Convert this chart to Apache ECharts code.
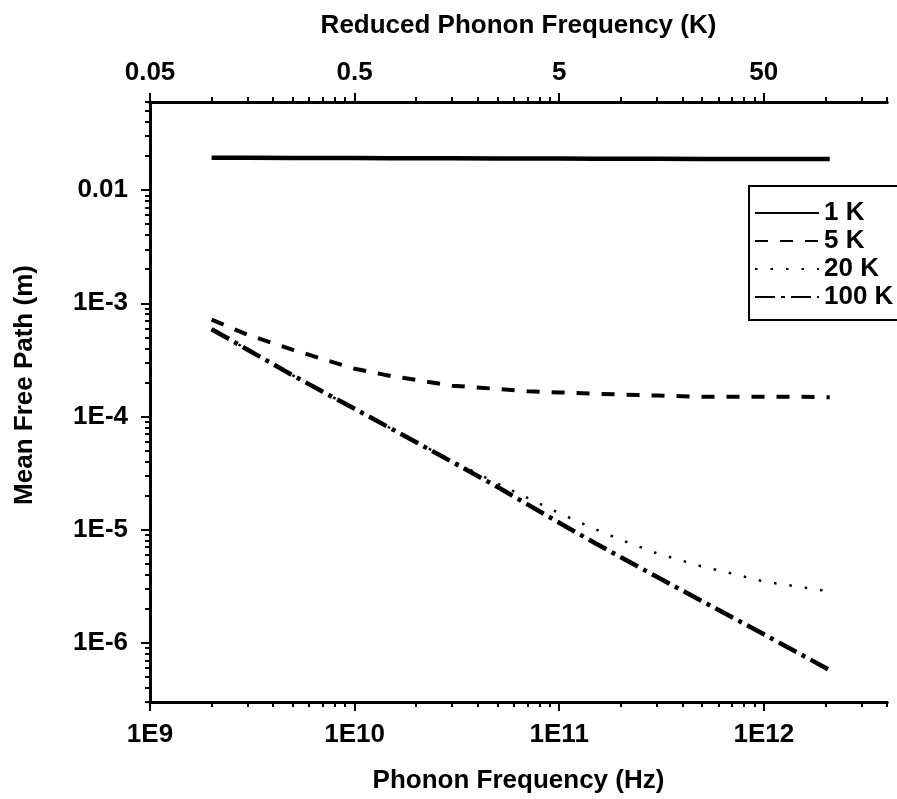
<!DOCTYPE html>
<html>
<head>
<meta charset="utf-8">
<script src="https://cdn.jsdelivr.net/npm/echarts@6/dist/echarts.min.js"></script>
<style>html,body{margin:0;padding:0;background:#fff}#c{width:897px;height:799px}</style>
</head>
<body>
<div id="c"></div>
<script>
// ---- data ----
const freqHz = [2e9, 3e9, 5e9, 7e9, 1e10, 1.5e10, 2e10, 3e10, 5e10, 7e10, 1e11, 1.5e11, 2e11, 3e11, 5e11, 7e11, 1e12, 1.5e12, 2.1e12];
const mfp1K   = [0.0193, 0.0193, 0.0192, 0.0192, 0.0192, 0.0191, 0.0191, 0.0191, 0.0190, 0.0190, 0.0190, 0.0189, 0.0189, 0.0189, 0.0188, 0.0188, 0.0188, 0.0188, 0.0188];
const mfp5K   = [7.16e-4, 5.27e-4, 3.88e-4, 3.21e-4, 2.64e-4, 2.28e-4, 2.10e-4, 1.87e-4, 1.75e-4, 1.67e-4, 1.63e-4, 1.59e-4, 1.56e-4, 1.53e-4, 1.49e-4, 1.49e-4, 1.49e-4, 1.49e-4, 1.48e-4];
const mfp20K  = [5.90e-4, 3.89e-4, 2.30e-4, 1.65e-4, 1.17e-4, 7.85e-5, 5.92e-5, 4.07e-5, 2.55e-5, 1.91e-5, 1.40e-5, 1.01e-5, 8.13e-6, 6.18e-6, 4.72e-6, 4.09e-6, 3.48e-6, 3.12e-6, 2.84e-6];
const mfp100K = [5.90e-4, 3.89e-4, 2.30e-4, 1.65e-4, 1.17e-4, 7.85e-5, 5.92e-5, 3.96e-5, 2.38e-5, 1.67e-5, 1.15e-5, 7.59e-6, 5.71e-6, 3.83e-6, 2.33e-6, 1.68e-6, 1.19e-6, 8.0e-7, 5.73e-7];
const seriesNames = ['1 K', '5 K', '20 K', '100 K'];
const bottomTickLabels = ['1E9', '1E10', '1E11', '1E12'];
const topTickLabels = ['0.05', '0.5', '5', '50'];
const leftTickLabels = ['1E-6', '1E-5', '1E-4', '1E-3', '0.01'];

// ---- axis ranges (log10 space) ----
const XMIN = 9, XMAX = 12 + Math.log10(4);
const YMIN = -7 + Math.log10(3), YMAX = -2 + Math.log10(6);
const xMajor = [9, 10, 11, 12];
const yMajor = [-6, -5, -4, -3, -2];
function minorVals(lo, hi, nFrom, nTo) {
  const out = [];
  for (let n = nFrom; n <= nTo; n++) for (let k = 2; k <= 9; k++) {
    const v = n + Math.log10(k);
    if (v >= lo - 1e-9 && v <= hi + 1e-9) out.push(v);
  }
  return out;
}
const xMinor = minorVals(XMIN, XMAX, 9, 12);
const yMinor = minorVals(YMIN, YMAX, -7, -2);

const FONT = "'Liberation Sans', Arial, sans-serif";
const FS = 26;
const black = '#000';
const lbl = (arr, base) => (v) => arr[Math.round(v) - base] || '';

function xAx(pos, major, labels, name, gap, margin) {
  return {
    type: 'value', position: pos, min: XMIN, max: XMAX,
    splitLine: { show: false },
    axisLine: { show: true, lineStyle: { color: black, width: 3 } },
    axisTick: major ? { show: true, inside: false, customValues: xMajor, length: 9, lineStyle: { color: black, width: 2 } }
                    : { show: true, inside: false, customValues: xMinor, length: 5, lineStyle: { color: black, width: 2 } },
    axisLabel: major ? { show: true, inside: false, customValues: xMajor, formatter: lbl(labels, 9), margin: margin,
                         color: black, fontSize: FS, fontWeight: 'bold', fontFamily: FONT }
                     : { show: false },
    name: name || '', nameLocation: 'middle', nameGap: gap || 0,
    nameTextStyle: { color: black, fontSize: FS, fontWeight: 'bold', fontFamily: FONT }
  };
}

const lineDefs = [
  { name: seriesNames[0], data: mfp1K,   width: 4.5, type: 'solid' },
  { name: seriesNames[1], data: mfp5K,   width: 4, type: [13, 12] },
  { name: seriesNames[2], data: mfp20K,  width: 2.5, type: [2.5, 13] },
  { name: seriesNames[3], data: mfp100K, width: 4.5, type: [20, 6, 4, 6] }
];

const option = {
  animation: false,
  backgroundColor: '#fff',
  grid: { left: 150, right: 10, top: 102, bottom: 96, containLabel: false },
  xAxis: [
    xAx('bottom', true, bottomTickLabels, 'Phonon Frequency (Hz)', 66, 20),
    xAx('bottom', false),
    xAx('top', true, topTickLabels, 'Reduced Phonon Frequency (K)', 63, 16),
    xAx('top', false)
  ],
  yAxis: [
    {
      type: 'value', position: 'left', min: YMIN, max: YMAX,
      splitLine: { show: false },
      axisLine: { show: true, lineStyle: { color: black, width: 3 } },
      axisTick: { show: true, inside: false, customValues: yMajor, length: 9, lineStyle: { color: black, width: 2 } },
      axisLabel: { show: true, inside: false, customValues: yMajor, formatter: lbl(leftTickLabels, -6), margin: 22,
                   color: black, fontSize: FS, fontWeight: 'bold', fontFamily: FONT },
      name: 'Mean Free Path (m)', nameLocation: 'middle', nameGap: 112,
      nameTextStyle: { color: black, fontSize: FS, fontWeight: 'bold', fontFamily: FONT, padding: [0, 0, 0, 34] }
    },
    {
      type: 'value', position: 'left', min: YMIN, max: YMAX,
      splitLine: { show: false },
      axisLine: { show: true, lineStyle: { color: black, width: 3 } },
      axisTick: { show: true, inside: false, customValues: yMinor, length: 5, lineStyle: { color: black, width: 2 } },
      axisLabel: { show: false }
    }
  ],
  legend: {
    data: seriesNames,
    orient: 'vertical', left: 749, top: 186,
    itemWidth: 64, itemHeight: 14, itemGap: 2,
    padding: [14, 20, 10, 5],
    borderColor: black, borderWidth: 2, backgroundColor: '#fff',
    itemStyle: { opacity: 0 },
    textStyle: { color: black, fontSize: FS, fontWeight: 'bold', fontFamily: FONT }
  },
  series: lineDefs.map(d => ({
    name: d.name, type: 'line', xAxisIndex: 0, yAxisIndex: 0,
    symbol: 'none', silent: true,
    lineStyle: { color: black, width: d.width, type: d.type },
    itemStyle: { color: black },
    data: freqHz.map((f, i) => [Math.log10(f), Math.log10(d.data[i])])
  }))
};

const chart = echarts.init(document.getElementById('c'), null, { renderer: 'canvas' });
chart.setOption(option);
</script>
</body>
</html>
